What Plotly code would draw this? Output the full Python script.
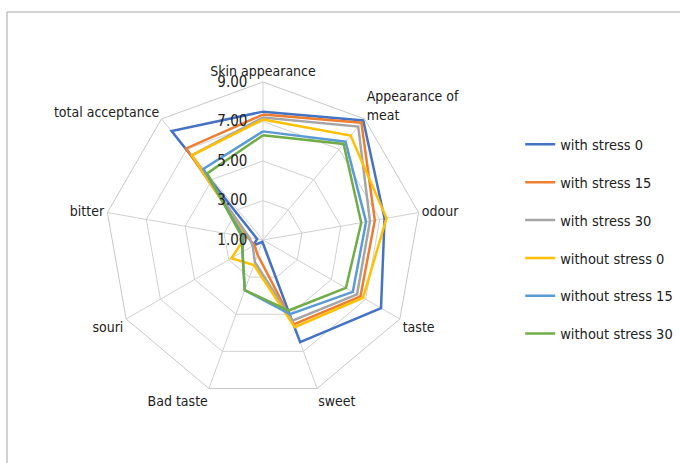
import plotly.graph_objects as go

categories = ["Skin appearance", "Appearance of meat", "odour", "taste", "sweet",
              "Bad taste", "souri", "bitter", "total acceptance"]
category_labels = ["Skin appearance", "Appearance of<br>meat", "odour", "taste", "sweet",
                   "Bad taste", "souri", "bitter", "total acceptance"]

with_stress_0 = [7.50, 8.90, 7.25, 7.90, 6.50, 1.10, 1.60, 1.30, 8.20]
with_stress_15 = [7.35, 8.75, 6.75, 6.70, 5.55, 1.80, 1.50, 1.80, 7.05]
with_stress_30 = [7.20, 8.50, 6.50, 6.50, 5.35, 2.20, 1.60, 1.70, 6.60]
without_stress_0 = [7.10, 7.90, 7.35, 6.85, 5.70, 2.35, 2.85, 1.90, 6.60]
without_stress_15 = [6.50, 7.50, 6.30, 6.25, 5.00, 3.70, 2.20, 2.00, 5.70]
without_stress_30 = [6.30, 7.35, 6.05, 5.85, 4.80, 3.70, 2.20, 2.10, 5.40]

series_names = ["with stress 0", "with stress 15", "with stress 30",
                "without stress 0", "without stress 15", "without stress 30"]
series_values = [with_stress_0, with_stress_15, with_stress_30,
                 without_stress_0, without_stress_15, without_stress_30]
series_colors = ["#4472C4", "#ED7D31", "#A5A5A5", "#FFC000", "#5B9BD5", "#70AD47"]

radial_ticks = [1, 3, 5, 7, 9]
radial_tick_labels = ["1.00", "3.00", "5.00", "7.00", "9.00"]
PAD = "\u00a0" * 3

FONT = "DejaVu Sans Condensed, Liberation Sans Narrow, sans-serif"

fig = go.Figure()
for name, vals, col in zip(series_names, series_values, series_colors):
    fig.add_trace(go.Scatterpolar(
        r=vals + vals[:1],
        theta=categories + categories[:1],
        mode="lines",
        name=name,
        legendgroup=name,
        line=dict(color=col, width=2.5),
    ))

W, H = 680, 463
cx, cy, R = 263, 240, 158

fig.update_layout(
    width=W, height=H,
    margin=dict(l=0, r=0, t=0, b=0),
    paper_bgcolor="white",
    plot_bgcolor="white",
    font=dict(family=FONT, size=14, color="#222222"),
    polar=dict(
        domain=dict(x=[(cx - R) / W, (cx + R) / W],
                    y=[1 - (cy + R) / H, 1 - (cy - R) / H]),
        bgcolor="white",
        gridshape="linear",
        radialaxis=dict(
            range=[1, 9],
            tickvals=radial_ticks,
            ticktext=[t + PAD for t in radial_tick_labels],
            angle=90,
            side="counterclockwise",
            tickangle=90,
            showline=False,
            ticks="",
            gridcolor="#d0d0d0",
            gridwidth=1,
            tickfont=dict(size=15, color="#222222"),
        ),
        angularaxis=dict(
            direction="clockwise",
            rotation=90,
            tickvals=categories,
            ticktext=category_labels,
            showline=True,
            linecolor="#c8c8c8",
            linewidth=1,
            gridcolor="#d0d0d0",
            ticks="",
            tickfont=dict(size=14, color="#222222"),
        ),
    ),
    legend=dict(
        x=0.765, y=0.7226, xanchor="left", yanchor="top",
        traceorder="grouped",
        tracegroupgap=16,
        font=dict(size=14.5, color="#222222"),
        bgcolor="rgba(0,0,0,0)",
    ),
    shapes=[dict(type="rect", xref="paper", yref="paper",
                 x0=7 / W, x1=1.05, y0=-0.05, y1=1 - 12 / H,
                 line=dict(color="#a6a6a6", width=1), fillcolor="rgba(0,0,0,0)",
                 layer="below")],
)

fig.write_html("out.html", config={"displayModeBar": False},
               post_script="document.body.style.margin='0';")
